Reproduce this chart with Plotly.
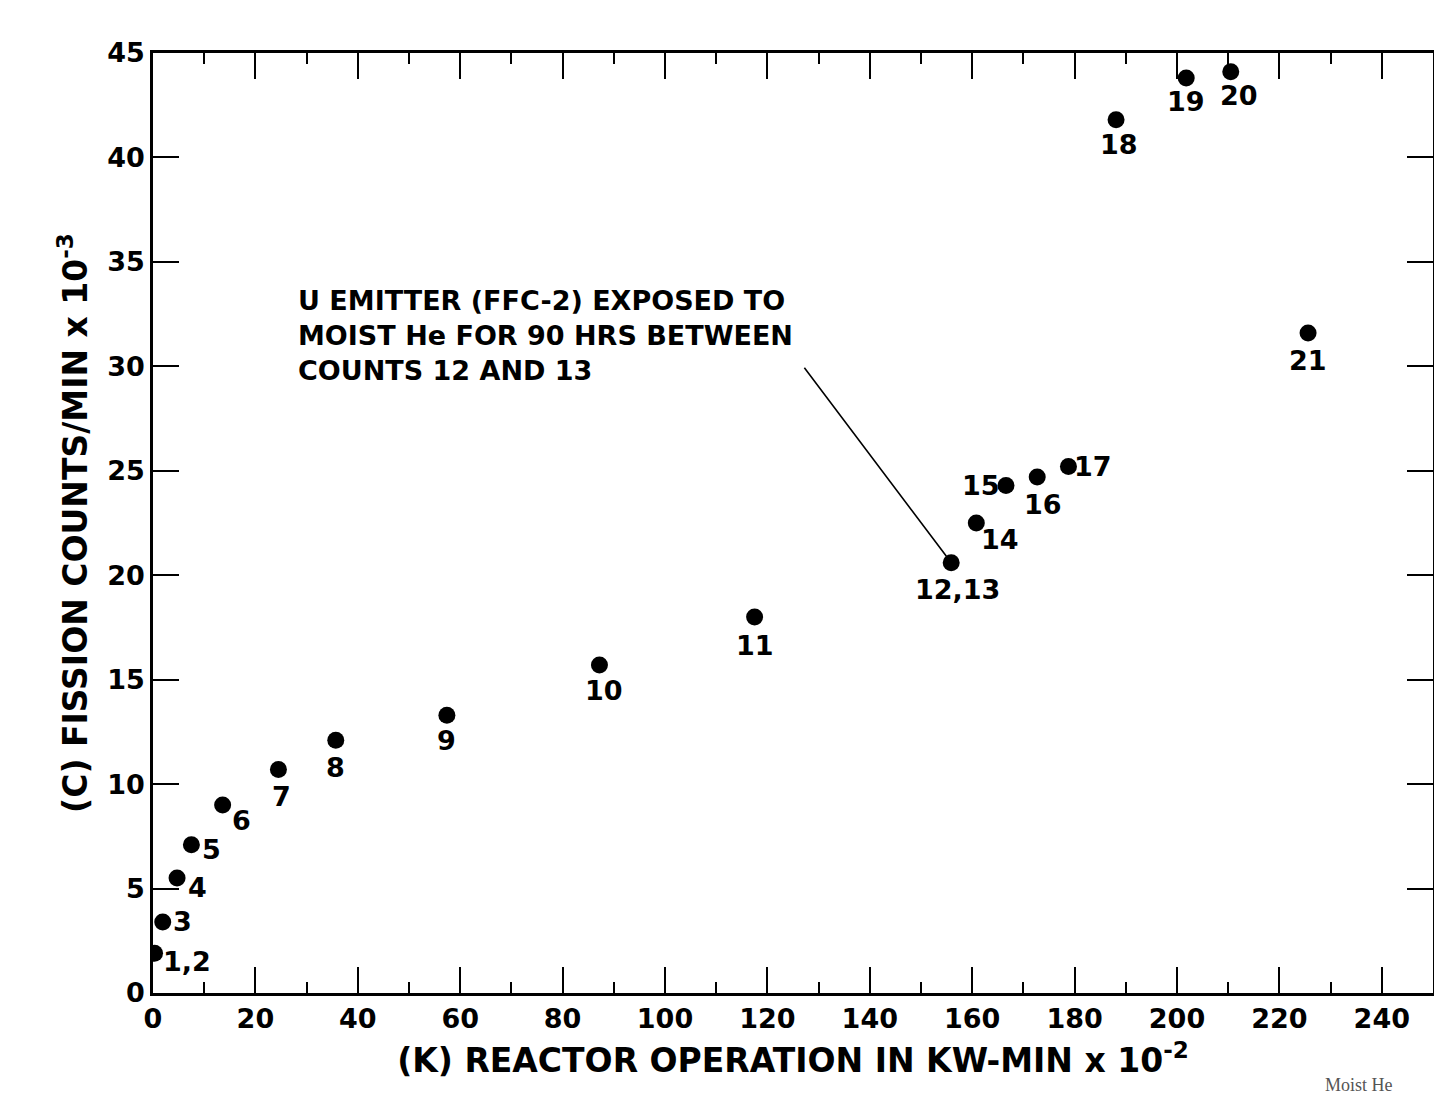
import plotly.graph_objects as go

# Data
reactor_op = [0.3, 1.9, 4.7, 7.5, 13.6, 24.5, 35.7, 57.4, 87.2, 117.5, 155.9,
              160.8, 166.6, 172.7, 178.8, 188.1, 201.8, 210.5, 225.6]
fission_counts = [1.9, 3.4, 5.5, 7.1, 9.0, 10.7, 12.1, 13.3, 15.7, 18.0, 20.6,
                  22.5, 24.3, 24.7, 25.2, 41.8, 43.8, 44.1, 31.6]
point_labels = ["1,2", "3", "4", "5", "6", "7", "8", "9", "10", "11", "12,13",
                "14", "15", "16", "17", "18", "19", "20", "21"]

# label placement (pixel offsets from the dot)
label_dx = [32, 20, 20, 20, 19, 3, 0, 0, 5, 0, 6, 24, -25, 6, 25, 3, 0, 8, 0]
label_dy = [-8, 0, -9, -5, -15, -27, -27, -25, -25, -28, -27, -16, 0, -27, 0, -25, -23, -24, -28]

note_text = "U EMITTER (FFC-2) EXPOSED TO<br>MOIST He FOR 90 HRS BETWEEN<br>COUNTS 12 AND 13"
note_pos = (28, 31.5)
leader_start = (127, 30.0)

FONT = "DejaVu Sans"

fig = go.Figure()
fig.add_trace(go.Scatter(
    x=reactor_op, y=fission_counts, mode="markers",
    marker=dict(color="black", size=17, line=dict(width=0)),
    showlegend=False, hoverinfo="x+y"))

for xv, yv, lab, dx, dy in zip(reactor_op, fission_counts, point_labels, label_dx, label_dy):
    fig.add_annotation(x=xv, y=yv, text="<b>%s</b>" % lab, showarrow=False,
                       xshift=dx, yshift=dy,
                       font=dict(family=FONT, size=27, color="black"))

# leader line from note to points 12,13
idx = point_labels.index("12,13")
fig.add_annotation(x=reactor_op[idx], y=fission_counts[idx],
                   ax=leader_start[0], ay=leader_start[1], axref="x", ayref="y",
                   text="", showarrow=True, arrowhead=0, arrowwidth=1.6,
                   arrowcolor="black", standoff=8)

fig.add_annotation(x=note_pos[0], y=note_pos[1], text="<b>%s</b>" % note_text, showarrow=False,
                   xanchor="left", yanchor="middle", align="left",
                   font=dict(family=FONT, size=27, color="black"))

fig.add_annotation(xref="paper", yref="paper", x=0.97, y=-0.085, text="Moist He",
                   showarrow=False, xanchor="right", yanchor="top",
                   font=dict(family="Liberation Serif", size=18, color="#555"))

axis_common = dict(showgrid=False, zeroline=False, showline=True, linecolor="black",
                   linewidth=2.5, mirror="ticks", ticks="inside", ticklen=26,
                   tickwidth=2, tickcolor="black",
                   tickfont=dict(family=FONT, size=27, color="black", weight="bold"))

fig.update_xaxes(range=[0, 250], tick0=0, dtick=20, **axis_common,
                 minor=dict(dtick=10, ticks="inside", ticklen=11, tickwidth=2, tickcolor="black"),
                 title=dict(text="<b>(K) REACTOR OPERATION IN KW-MIN x 10<sup>-2</sup></b>",
                            font=dict(family=FONT, size=33, color="black"), standoff=16))
fig.update_yaxes(range=[0, 45], tick0=0, dtick=5, **axis_common,
                 title=dict(text="<b>(C) FISSION COUNTS/MIN x 10<sup>-3</sup></b>",
                            font=dict(family=FONT, size=33, color="black"), standoff=10))

fig.update_layout(width=1442, height=1102, plot_bgcolor="white", paper_bgcolor="white",
                  margin=dict(l=145, r=17, t=45, b=117))

fig.write_html("out.html")
